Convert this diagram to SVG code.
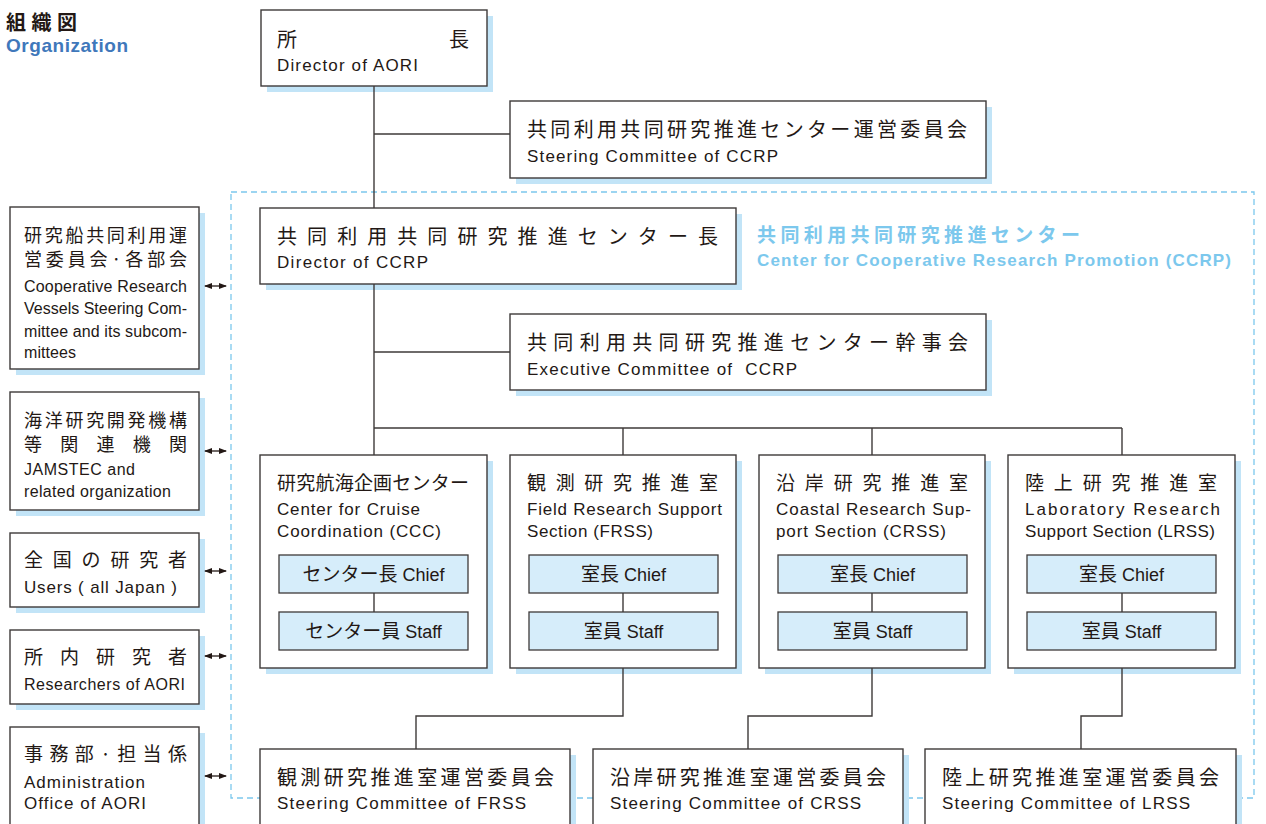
<svg xmlns="http://www.w3.org/2000/svg" width="1266" height="824" viewBox="0 0 1266 824">
<style>
.box{fill:#fff;stroke:#3e3a39;stroke-width:1.4}
.sh{fill:#c2e4f7}
.sub{fill:#d6edfa;stroke:#3e3a39;stroke-width:1.3}
.ln{stroke:#3e3a39;stroke-width:1.4;fill:none}
.ar{stroke:#231815;stroke-width:1.3;fill:none;marker-start:url(#ah);marker-end:url(#ah)}
.frame{fill:none;stroke:#7cc8ed;stroke-width:1.3;stroke-dasharray:6 4}
.jp{font-family:"Noto Sans CJK JP","Noto Sans",sans-serif;fill:#231815;font-size:19px}
.en{font-family:"Liberation Sans",Arial,sans-serif;fill:#231815;font-size:17px}
.ens{font-family:"Liberation Sans",Arial,sans-serif;fill:#231815;font-size:16px}
.lj{font-family:"Noto Sans CJK JP","Noto Sans",sans-serif;fill:#231815;font-size:18px}
.ct{text-anchor:middle}
</style>
<defs>
<marker id="ah" viewBox="0 0 8 8" refX="7" refY="4" markerWidth="8" markerHeight="8" markerUnits="userSpaceOnUse" orient="auto-start-reverse">
<path d="M0,1 L8,4 L0,7 Z" fill="#231815"/>
</marker>
</defs>
<rect width="1266" height="824" fill="#fff"/>

<g id="title">
<text x="6" y="30" class="jp" style="font-size:20px;font-weight:bold" textLength="71">組織図</text>
<text x="6" y="52" class="en" style="font-size:19px;font-weight:bold;fill:#3f78bb" textLength="122">Organization</text>
</g>

<path class="frame" d="M231,192 H1254 V798 H231 Z"/>

<g id="ccrp-label">
<text x="757" y="242" class="jp" style="font-size:19px;font-weight:bold;fill:#7cc8ed" textLength="323">共同利用共同研究推進センター</text>
<text x="757" y="266" class="en" style="font-size:17px;font-weight:bold;fill:#7cc8ed" textLength="474">Center for Cooperative Research Promotion (CCRP)</text>
</g>

<g id="director">
<rect class="sh" x="267" y="16" width="226" height="76"/>
<rect class="box" x="261" y="10" width="226" height="76"/>
<text x="277" y="47" class="jp" style="font-size:20px">所</text>
<text x="449" y="47" class="jp" style="font-size:20px">長</text>
<text x="277" y="71" class="en" textLength="141">Director of AORI</text>
</g>

<g id="steering-ccrp">
<rect class="sh" x="516" y="107" width="476" height="77"/>
<rect class="box" x="510" y="101" width="476" height="77"/>
<text x="527" y="137" class="jp" style="font-size:20px" textLength="440">共同利用共同研究推進センター運営委員会</text>
<text x="527" y="162" class="en" textLength="251">Steering Committee of CCRP</text>
</g>

<g id="ccrp-director">
<rect class="sh" x="266" y="214" width="476" height="76"/>
<rect class="box" x="260" y="208" width="476" height="76"/>
<text x="277" y="244" class="jp" style="font-size:20px" textLength="441">共同利用共同研究推進センター長</text>
<text x="277" y="268" class="en" textLength="151">Director of CCRP</text>
</g>

<g id="exec-ccrp">
<rect class="sh" x="516" y="320" width="476" height="76"/>
<rect class="box" x="510" y="314" width="476" height="76"/>
<text x="527" y="350" class="jp" style="font-size:20px" textLength="441">共同利用共同研究推進センター幹事会</text>
<text x="527" y="375" class="en" textLength="270" xml:space="preserve">Executive Committee of  CCRP</text>
</g>

<g id="ccc">
<rect class="sh" x="266" y="461" width="227" height="213"/>
<rect class="box" x="260" y="455" width="227" height="213"/>
<text x="277" y="490" class="jp" textLength="192">研究航海企画センター</text>
<text x="277" y="515" class="en" textLength="143">Center for Cruise</text>
<text x="277" y="537" class="en" textLength="164">Coordination (CCC)</text>
<rect class="sub" x="279" y="555" width="189" height="38"/>
<text x="373.5" y="581" class="ct" xml:space="preserve"><tspan class="jp">センター長</tspan><tspan class="en" style="font-size:18px"> Chief</tspan></text>
<rect class="sub" x="279" y="612" width="189" height="38"/>
<text x="373.5" y="638" class="ct" xml:space="preserve"><tspan class="jp">センター員</tspan><tspan class="en" style="font-size:18px"> Staff</tspan></text>
</g>

<g id="frss">
<rect class="sh" x="516" y="461" width="226" height="213"/>
<rect class="box" x="510" y="455" width="226" height="213"/>
<text x="527" y="490" class="jp" textLength="191">観測研究推進室</text>
<text x="527" y="515" class="en" textLength="195">Field Research Support</text>
<text x="527" y="537" class="en" textLength="126">Section (FRSS)</text>
<rect class="sub" x="529" y="555" width="189" height="38"/>
<text x="623.5" y="581" class="ct" xml:space="preserve"><tspan class="jp">室長</tspan><tspan class="en" style="font-size:18px"> Chief</tspan></text>
<rect class="sub" x="529" y="612" width="189" height="38"/>
<text x="623.5" y="638" class="ct" xml:space="preserve"><tspan class="jp">室員</tspan><tspan class="en" style="font-size:18px"> Staff</tspan></text>
</g>

<g id="crss">
<rect class="sh" x="765" y="461" width="226" height="213"/>
<rect class="box" x="759" y="455" width="226" height="213"/>
<text x="776" y="490" class="jp" textLength="192">沿岸研究推進室</text>
<text x="776" y="515" class="en" textLength="195">Coastal Research Sup-</text>
<text x="776" y="537" class="en" textLength="170">port Section (CRSS)</text>
<rect class="sub" x="778" y="555" width="189" height="38"/>
<text x="872.5" y="581" class="ct" xml:space="preserve"><tspan class="jp">室長</tspan><tspan class="en" style="font-size:18px"> Chief</tspan></text>
<rect class="sub" x="778" y="612" width="189" height="38"/>
<text x="872.5" y="638" class="ct" xml:space="preserve"><tspan class="jp">室員</tspan><tspan class="en" style="font-size:18px"> Staff</tspan></text>
</g>

<g id="lrss">
<rect class="sh" x="1014" y="461" width="227" height="213"/>
<rect class="box" x="1008" y="455" width="227" height="213"/>
<text x="1025" y="490" class="jp" textLength="192">陸上研究推進室</text>
<text x="1025" y="515" class="en" textLength="195">Laboratory Research</text>
<text x="1025" y="537" class="en" textLength="190">Support Section (LRSS)</text>
<rect class="sub" x="1027" y="555" width="189" height="38"/>
<text x="1121.5" y="581" class="ct" xml:space="preserve"><tspan class="jp">室長</tspan><tspan class="en" style="font-size:18px"> Chief</tspan></text>
<rect class="sub" x="1027" y="612" width="189" height="38"/>
<text x="1121.5" y="638" class="ct" xml:space="preserve"><tspan class="jp">室員</tspan><tspan class="en" style="font-size:18px"> Staff</tspan></text>
</g>

<g id="frss-steering">
<rect class="sh" x="266" y="755" width="310" height="80"/>
<rect class="box" x="260" y="749" width="310" height="80"/>
<text x="277" y="785" class="jp" style="font-size:20px" textLength="277">観測研究推進室運営委員会</text>
<text x="277" y="809" class="en" textLength="249">Steering Committee of FRSS</text>
</g>

<g id="crss-steering">
<rect class="sh" x="599" y="755" width="310" height="80"/>
<rect class="box" x="593" y="749" width="310" height="80"/>
<text x="610" y="785" class="jp" style="font-size:20px" textLength="276">沿岸研究推進室運営委員会</text>
<text x="610" y="809" class="en" textLength="251">Steering Committee of CRSS</text>
</g>

<g id="lrss-steering">
<rect class="sh" x="931" y="755" width="311" height="80"/>
<rect class="box" x="925" y="749" width="311" height="80"/>
<text x="942" y="785" class="jp" style="font-size:20px" textLength="277">陸上研究推進室運営委員会</text>
<text x="942" y="809" class="en" textLength="248">Steering Committee of LRSS</text>
</g>

<g id="vessels-committee">
<rect class="sh" x="16" y="213" width="189" height="162"/>
<rect class="box" x="10" y="207" width="189" height="162"/>
<text x="24" y="242" class="lj" textLength="163">研究船共同利用運</text>
<text x="24" y="266" class="lj" textLength="163">営委員会·各部会</text>
<text x="24" y="292" class="ens" textLength="163">Cooperative Research</text>
<text x="24" y="314" class="ens" textLength="163">Vessels Steering Com-</text>
<text x="24" y="337" class="ens" textLength="163">mittee and its subcom-</text>
<text x="24" y="358" class="ens" textLength="52">mittees</text>
</g>

<g id="jamstec">
<rect class="sh" x="16" y="398" width="189" height="118"/>
<rect class="box" x="10" y="392" width="189" height="118"/>
<text x="24" y="427" class="lj" textLength="163">海洋研究開発機構</text>
<text x="24" y="451" class="lj" textLength="163">等関連機関</text>
<text x="24" y="475" class="ens" textLength="111">JAMSTEC and</text>
<text x="24" y="497" class="ens" textLength="147">related organization</text>
</g>

<g id="users">
<rect class="sh" x="16" y="539" width="189" height="74"/>
<rect class="box" x="10" y="533" width="189" height="74"/>
<text x="24" y="567" class="jp" textLength="163">全国の研究者</text>
<text x="24" y="593" class="en" textLength="153" xml:space="preserve">Users ( all Japan )</text>
</g>

<g id="researchers">
<rect class="sh" x="16" y="636" width="189" height="74"/>
<rect class="box" x="10" y="630" width="189" height="74"/>
<text x="24" y="664" class="jp" textLength="163">所内研究者</text>
<text x="24" y="690" class="ens" textLength="161">Researchers of AORI</text>
</g>

<g id="administration">
<rect class="sh" x="16" y="733" width="189" height="100"/>
<rect class="box" x="10" y="727" width="189" height="100"/>
<text x="24" y="761" class="jp" textLength="163">事務部·担当係</text>
<text x="24" y="788" class="en" textLength="121">Administration</text>
<text x="24" y="809" class="en" textLength="122">Office of AORI</text>
</g>

<g id="connectors">
<path class="ln" d="M374,86 V208"/>
<path class="ln" d="M374,134 H510"/>
<path class="ln" d="M374,284 V455"/>
<path class="ln" d="M374,352 H510"/>
<path class="ln" d="M374,428 H1122"/>
<path class="ln" d="M623,428 V455"/>
<path class="ln" d="M872,428 V455"/>
<path class="ln" d="M1122,428 V455"/>
<path class="ln" d="M374,593 V612"/>
<path class="ln" d="M623,593 V612"/>
<path class="ln" d="M872,593 V612"/>
<path class="ln" d="M1122,593 V612"/>
<path class="ln" d="M623,668 V716 H416 V749"/>
<path class="ln" d="M872,668 V716 H748 V749"/>
<path class="ln" d="M1122,668 V716 H1081 V749"/>
<path class="ar" d="M205,286 H226"/>
<path class="ar" d="M205,451 H226"/>
<path class="ar" d="M205,571 H226"/>
<path class="ar" d="M205,656 H226"/>
<path class="ar" d="M205,776 H226"/>
</g>
</svg>
